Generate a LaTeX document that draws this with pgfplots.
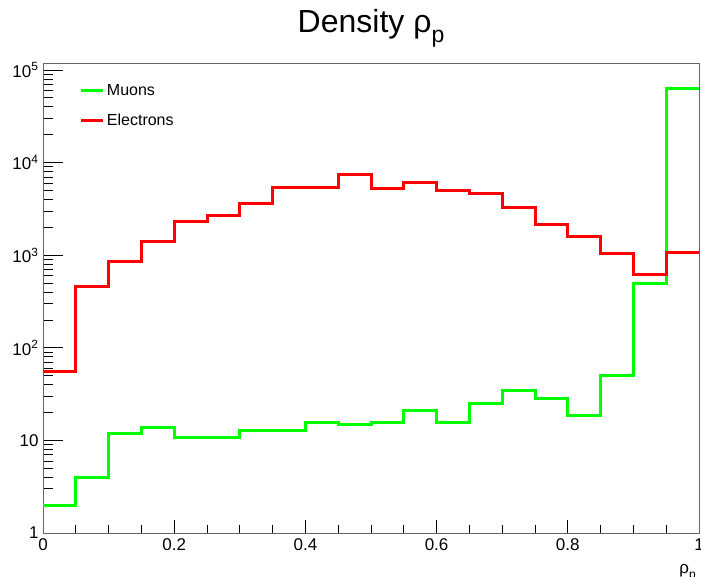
\documentclass[border=0pt]{standalone}
\usepackage{fontspec}
\setmainfont{Liberation Sans}
\usepackage{pgfplots}
\pgfplotsset{compat=1.18}

\begin{document}
\begin{tikzpicture}
\begin{axis}[
    scale only axis,
    width=656pt, height=470pt,
    xmin=0, xmax=1, ymode=log, ymin=1, ymax=1.19e5,
    const plot,
    axis line style={draw=black!60, line width=0.8pt},
    tick style={black, line width=0.8pt},
    tick align=inside, xtick pos=bottom, ytick pos=left,
    major tick length=20pt, minor tick length=10pt,
    xtick style={/pgfplots/major tick length=13pt, /pgfplots/minor tick length=8pt},
    xtick={0,0.2,0.4,0.6,0.8,1}, xticklabels={0,0.2,0.4,0.6,0.8,1},
    minor x tick num=3,
    ytick={1,10,100,1000,10000,100000},
    yticklabels={1,10,10\textsuperscript{2},10\textsuperscript{3},10\textsuperscript{4},10\textsuperscript{5}},
    ticklabel style={font=\fontsize{17}{20}\selectfont},
    /pgf/number format/assume math mode=true,
    xticklabel style={yshift=-2pt},
    yticklabel style={xshift=-1pt},
    legend style={draw=none, fill=none, at={(0.056,0.96)}, anchor=north west,
        font=\fontsize{16}{19}\selectfont, inner sep=0pt, row sep=13pt,
        cells={anchor=west}},
    legend image code/.code={\draw[#1] (0pt,0pt) -- (22pt,0pt);},
    clip=false,
]
    % Muons
    \addplot[color={rgb,255:red,0;green,255;blue,0}, line width=3pt] coordinates {
        (0,2) (0.05,3.93) (0.1,11.8) (0.15,13.8) (0.2,10.8) (0.25,10.8)
        (0.3,12.9) (0.35,12.9) (0.4,15.7) (0.45,14.8) (0.5,15.5) (0.55,20.8)
        (0.6,15.7) (0.65,25.3) (0.7,34.8) (0.75,28.2) (0.8,18.7) (0.85,49.6)
        (0.9,489) (0.95,63400) (1,63400)
    };
    \addlegendentry{Muons}
    % Electrons
    \addplot[color={rgb,255:red,255;green,0;blue,0}, line width=3pt] coordinates {
        (0,55) (0.05,454) (0.1,845) (0.15,1423) (0.2,2284) (0.25,2717)
        (0.3,3660) (0.35,5450) (0.4,5450) (0.45,7350) (0.5,5280) (0.55,6070)
        (0.6,4970) (0.65,4660) (0.7,3290) (0.75,2135) (0.8,1573) (0.85,1048)
        (0.9,626) (0.95,1075) (1,1075)
    };
    \addlegendentry{Electrons}

    \node[anchor=base, font=\fontsize{32}{36}\selectfont] at (rel axis cs:0.5,1) [yshift=30pt]
        {Density ρ\raisebox{-0.3em}{\fontsize{23}{26}\selectfont p}};
    \node[anchor=north east, font=\fontsize{17}{20}\selectfont, inner sep=0pt] at (rel axis cs:1,0) [yshift=-31pt, xshift=-3pt]
        {ρ\raisebox{-0.3em}{\fontsize{12}{14}\selectfont p}};
\end{axis}
\pgfresetboundingbox
\path[use as bounding box] ([shift={(-43pt,-43pt)}]current axis.south west) rectangle ([shift={(2pt,63pt)}]current axis.north east);
\end{tikzpicture}
\end{document}
